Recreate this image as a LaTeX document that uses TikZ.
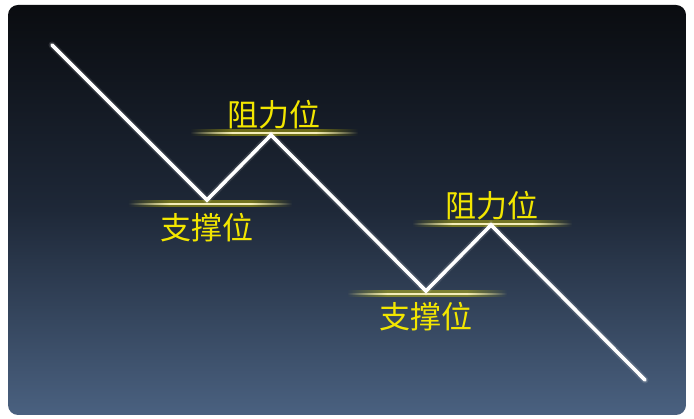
\documentclass[tikz,border=0pt]{standalone}
\usepackage{fontspec}
\newfontfamily\cjk{Noto Sans CJK SC}
\usetikzlibrary{fadings}
\definecolor{bgtop}{HTML}{0A0C10}
\definecolor{bgmid}{HTML}{1E2838}
\definecolor{bgbot}{HTML}{4A6180}
\definecolor{lvl}{HTML}{F2E600}
\definecolor{lvlcore}{HTML}{F4EDB8}
\tikzfading[name=fadeleft, left color=transparent!100, right color=transparent!0]
\tikzfading[name=faderight, left color=transparent!0, right color=transparent!100]
\tikzset{
  lbl/.style={font=\cjk\fontsize{31}{31}\selectfont, text=lvl, inner sep=0pt},
  trend/.style={draw=white, line width=3.6pt, line cap=round, line join=miter},
  glow/.style={draw=white, line width=7pt, line cap=round, opacity=0.12},
}
% #1 left x, #2 right x, #3 y, #4 colour, #5 half height, #6 opacity
\newcommand\levelband[6]{%
  \pgfmathsetmacro\la{#1+0.25*(#2-#1)}%
  \pgfmathsetmacro\lb{#1+0.75*(#2-#1)}%
  \fill[#4, opacity=#6, path fading=fadeleft] (#1,#3-#5) rectangle (\la,#3+#5);
  \fill[#4, opacity=#6] (\la,#3-#5) rectangle (\lb,#3+#5);
  \fill[#4, opacity=#6, path fading=faderight] (\lb,#3-#5) rectangle (#2,#3+#5);
}
\newcommand\levelline[3]{%
  \levelband{#1}{#2}{#3}{lvl}{3.5}{0.4}%
  \levelband{#1}{#2}{#3}{lvlcore}{1.2}{1}%
}
\begin{document}
\begin{tikzpicture}[x=1pt,y=-1pt]
\useasboundingbox (0,0) rectangle (694,419);
\fill[white] (0,0) rectangle (694,419);
\shade[rounded corners=10pt, top color=bgtop, bottom color=bgbot, middle color=bgmid] (8,5) rectangle (686,415);
% levels
\levelline{128}{292}{204}
\levelline{190}{358}{133}
\levelline{347}{507}{294}
\levelline{412}{572}{224}
% trend points
\coordinate (s) at (52,45);
\coordinate (v1) at (207,200);
\coordinate (p1) at (271,135);
\coordinate (v2) at (426,291);
\coordinate (p2) at (491,225);
\coordinate (e) at (645,380);
\draw[glow] (s) -- (v1) -- (p1) -- (v2) -- (p2) -- (e);
\draw[trend] (s) -- (v1) -- (p1) -- (v2) -- (p2) -- (e);
% labels
\node[lbl] (r1) at (274,115) {阻力位};
\node[lbl] (s1) at (207,228) {支撑位};
\node[lbl] (r2) at (492,206) {阻力位};
\node[lbl] (s2) at (426,317) {支撑位};
\end{tikzpicture}
\end{document}
